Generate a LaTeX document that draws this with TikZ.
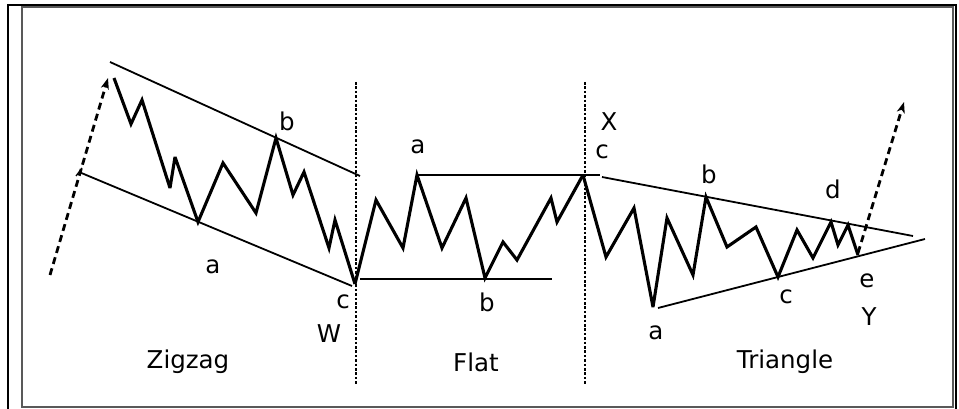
\documentclass[tikz,border=0pt]{standalone}
\usepackage{fontspec}
\setmainfont{DejaVu Sans}
\usetikzlibrary{arrows.meta}
\begin{document}
\begin{tikzpicture}[x=1pt,y=-1pt,
  wave/.style={line width=3.1pt,line join=miter,miter limit=4},
  chan/.style={line width=1.8pt},
  sep/.style={line width=1.8pt,dash pattern=on 2.6pt off 1.8pt},
  trend/.style={line width=2.8pt,dash pattern=on 7pt off 4.5pt,-{Stealth[length=11pt,width=8pt,inset=3pt]}},
  lbl/.style={inner sep=0pt,font=\fontsize{24.5}{28}\selectfont},
  ttl/.style={inner sep=0pt,font=\fontsize{24.5}{28}\selectfont}]
\useasboundingbox (0,0) rectangle (959,409);
\fill[white] (0,0) rectangle (959,409);
% frame
\draw[line width=1.5pt,gray!70!black] (22,7) rectangle (953,407);
\draw[line width=2.4pt] (7,5) -- (957,5);
\draw[line width=2.4pt] (8,5) -- (8,409);
\draw[line width=2.4pt] (956,5) -- (956,409);
% separators
\coordinate (s1t) at (356,82); \coordinate (s1b) at (356,385);
\coordinate (s2t) at (585,82); \coordinate (s2b) at (585,385);
\draw[sep] (s1t) -- (s1b);
\draw[sep] (s2t) -- (s2b);
% zigzag channel
\coordinate (zu1) at (110,62); \coordinate (zu2) at (360,176);
\coordinate (zl1) at (79,172); \coordinate (zl2) at (352,286);
\draw[chan] (zu1) -- (zu2);
\draw[chan] (zl1) -- (zl2);
\draw[line width=1.3pt] (76,176) -- (82,168);
% zigzag wave
\draw[wave] (114,78) -- (131,124) -- (142,100) -- (170,188) -- (175,157) -- (198,222) -- (223,163) -- (256,213) -- (276,138) -- (293,195) -- (304,172) -- (329,248) -- (335,220) -- (355,284);
% flat
\draw[chan] (417,175) -- (600,175);
\draw[chan] (360,279) -- (552,279);
\draw[wave] (355,284) -- (376,200) -- (403,248) -- (417,175) -- (442,248) -- (466,198) -- (485,278) -- (503,242) -- (517,260) -- (551,198) -- (557,222) -- (583,175);
% triangle
\coordinate (tu1) at (602,177); \coordinate (tu2) at (913,236);
\coordinate (tl1) at (658,308); \coordinate (tl2) at (925,239);
\draw[chan] (tu1) -- (tu2);
\draw[chan] (tl1) -- (tl2);
\draw[wave] (583,175) -- (606,257) -- (634,208) -- (653,307) -- (667,218) -- (693,275) -- (706,197) -- (727,247) -- (756,227) -- (778,277) -- (797,230) -- (813,258) -- (831,222) -- (838,245) -- (848,225) -- (858,255);
% trend arrows
\coordinate (la0) at (50,275); \coordinate (la1) at (108,78);
\coordinate (ra0) at (858,253); \coordinate (ra1) at (904,102);
\draw[trend] (la0) -- (la1);
\draw[trend] (ra0) -- (ra1);
% labels
\node[lbl] (zb) at (287,121) {b};
\node[lbl] (za) at (213,267) {a};
\node[lbl] (zc) at (343,302) {c};
\node[lbl] (zw) at (329,334) {W};
\node[lbl] (fa) at (418,147) {a};
\node[lbl] (fb) at (487,302) {b};
\node[lbl] (fx) at (609,122) {X};
\node[lbl] (fc) at (602,152) {c};
\node[lbl] (tb) at (709,174) {b};
\node[lbl] (td) at (833,189) {d};
\node[lbl] (te) at (867,281) {e};
\node[lbl] (ty) at (869,317) {Y};
\node[lbl] (tc) at (786,297) {c};
\node[lbl] (ta) at (656,333) {a};
\node[ttl] (tz) at (188,362) {Zigzag};
\node[ttl] (tf) at (476,362) {Flat};
\node[ttl] (tt) at (785,362) {Triangle};
\end{tikzpicture}
\end{document}
